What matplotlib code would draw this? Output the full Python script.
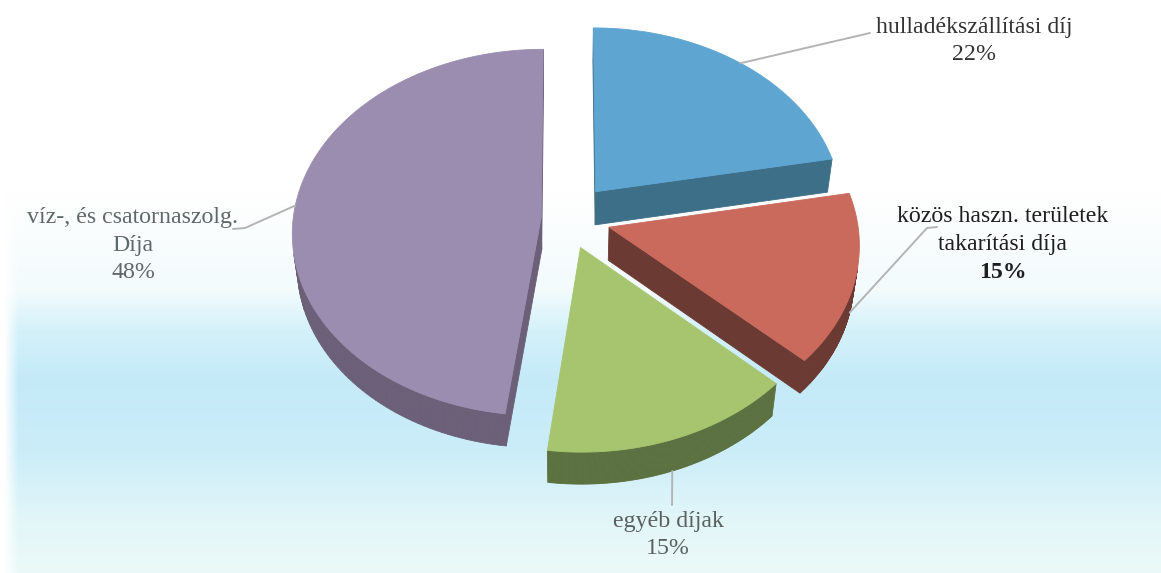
import numpy as np
import matplotlib.pyplot as plt
from matplotlib.patches import Polygon

# Cost shares (percent)
labels = ['hulladékszállítási díj', 'közös haszn. területek\ntakarítási díja',
          'egyéb díjak', 'víz-, és csatornaszolg.\nDíja']
shares = [22, 15, 15, 48]
top_colors = ['#5fa5d2', '#c96a5c', '#a7c46f', '#9b8db0']
side_colors = ['#3e6f89', '#6b3a33', '#5c7140', '#6c6079']
explode = [0.19, 0.18, 0.17, 0.10]

# simple perspective camera for the 3D pie
W, H = 1161, 573
cx, cy = 566, 218
phi = np.radians(47.2)
D = 8.0
f = 248 * D
h = 0.2


def project(X, Y, Z):
    X, Y, Z = np.asarray(X, float), np.asarray(Y, float), np.asarray(Z, float)
    v = Y * np.sin(phi) + Z * np.cos(phi)
    w = D + Y * np.cos(phi) - Z * np.sin(phi)
    return cx + f * X / w, cy - f * v / w


def signed_area(xs, ys):
    # y flipped so that counter-clockwise on screen is positive
    ys = -np.asarray(ys)
    return 0.5 * np.sum(xs * np.roll(ys, -1) - np.roll(xs, -1) * ys)


fig = plt.figure(figsize=(W / 100, H / 100), dpi=100)
ax = fig.add_axes([0, 0, 1, 1])
ax.set_xlim(0, W)
ax.set_ylim(H, 0)
ax.axis('off')

# background: white top, pale blue band, fading again at the bottom
yy = np.arange(H)
stops_y = [0, 190, 290, 330, 380, 450, 520, 573]
r = np.interp(yy, stops_y, [255, 255, 243, 212, 196, 203, 226, 236])
g = np.interp(yy, stops_y, [255, 255, 251, 241, 234, 237, 246, 249])
b = np.interp(yy, stops_y, [255, 255, 253, 250, 248, 248, 248, 248])
bg = np.stack([r, g, b], axis=1)[:, None, :].repeat(W, axis=1) / 255.0
xx = np.arange(W)
edge = np.clip((xx - 4) / 14.0, 0, 1)[None, :, None]
bg = 1 - (1 - bg) * edge
ax.imshow(bg, extent=[0, W, H, 0], aspect='auto', zorder=0)

# slice angles: start at 12 o'clock, clockwise
fracs = np.array(shares) / np.sum(shares)
ends = 90 - 360 * np.cumsum(fracs)
starts = np.concatenate([[90], ends[:-1]])

slices = []
for i in range(len(shares)):
    a, b_ = np.radians(ends[i]), np.radians(starts[i])   # counter-clockwise a -> b
    mid = 0.5 * (a + b_)
    ox, oy = explode[i] * np.cos(mid), explode[i] * np.sin(mid)
    slices.append((i, a, b_, mid, ox, oy))

# paint back to front
slices.sort(key=lambda s: -(s[5] + 0.5 * np.sin(s[3])))

for i, a, b_, mid, ox, oy in slices:
    t = np.linspace(a, b_, 120)
    rx, ry = ox + np.cos(t), oy + np.sin(t)
    faces = []
    # curved outer wall
    for k in range(len(t) - 1):
        X = [rx[k], rx[k], rx[k + 1], rx[k + 1]]
        Y = [ry[k], ry[k], ry[k + 1], ry[k + 1]]
        Z = [0, -h, -h, 0]
        faces.append(project(X, Y, Z))
    # radial cut faces
    faces.append(project([ox, ox, rx[0], rx[0]], [oy, oy, ry[0], ry[0]], [0, -h, -h, 0]))
    faces.append(project([rx[-1], rx[-1], ox, ox], [ry[-1], ry[-1], oy, oy], [0, -h, -h, 0]))
    for xs, ys in faces:
        if signed_area(xs, ys) > 0:
            ax.add_patch(Polygon(np.column_stack([xs, ys]), closed=True,
                                 facecolor=side_colors[i], edgecolor=side_colors[i],
                                 linewidth=0.6, zorder=2))
    # top face
    xs, ys = project(np.concatenate([[ox], rx]), np.concatenate([[oy], ry]),
                     np.zeros(len(t) + 1))
    ax.add_patch(Polygon(np.column_stack([xs, ys]), closed=True,
                         facecolor=top_colors[i], edgecolor=top_colors[i],
                         linewidth=0.6, zorder=2))

# leader lines: from the rim at each slice's middle angle to its label
label_pos = [(974, 27), (1003, 217), (668, 521), (133, 218)]
bends = [[(840, 40), (870, 33)], [(927, 228), (937, 227)],
         [(672, 505)], [(245, 228), (233, 229)]]
text_colors = ['#333333', '#1e1e1e', '#5a6060', '#5f6868']
for i in range(len(shares)):
    a, b_ = np.radians(ends[i]), np.radians(starts[i])
    mid = 0.5 * (a + b_)
    ox, oy = explode[i] * np.cos(mid), explode[i] * np.sin(mid)
    z = -h if np.sin(mid) < 0 else 0
    sx, sy = project(ox + np.cos(mid), oy + np.sin(mid), z)
    pts = [(float(sx), float(sy))] + bends[i]
    ax.plot([p[0] for p in pts], [p[1] for p in pts], color='#b4b4b4',
            linewidth=1.4, zorder=3, solid_capstyle='round')

    lines = labels[i].split('\n') + ['%d%%' % shares[i]]
    x0, y0 = label_pos[i]
    for k, line in enumerate(lines):
        bold = (i == 1 and k == len(lines) - 1)
        ax.text(x0, y0 + 27.5 * k, line, ha='center', va='center', fontsize=17.2,
                family='Liberation Serif', color=text_colors[i],
                fontweight='bold' if bold else 'normal', zorder=4)

fig.savefig('out.png', dpi=100)
